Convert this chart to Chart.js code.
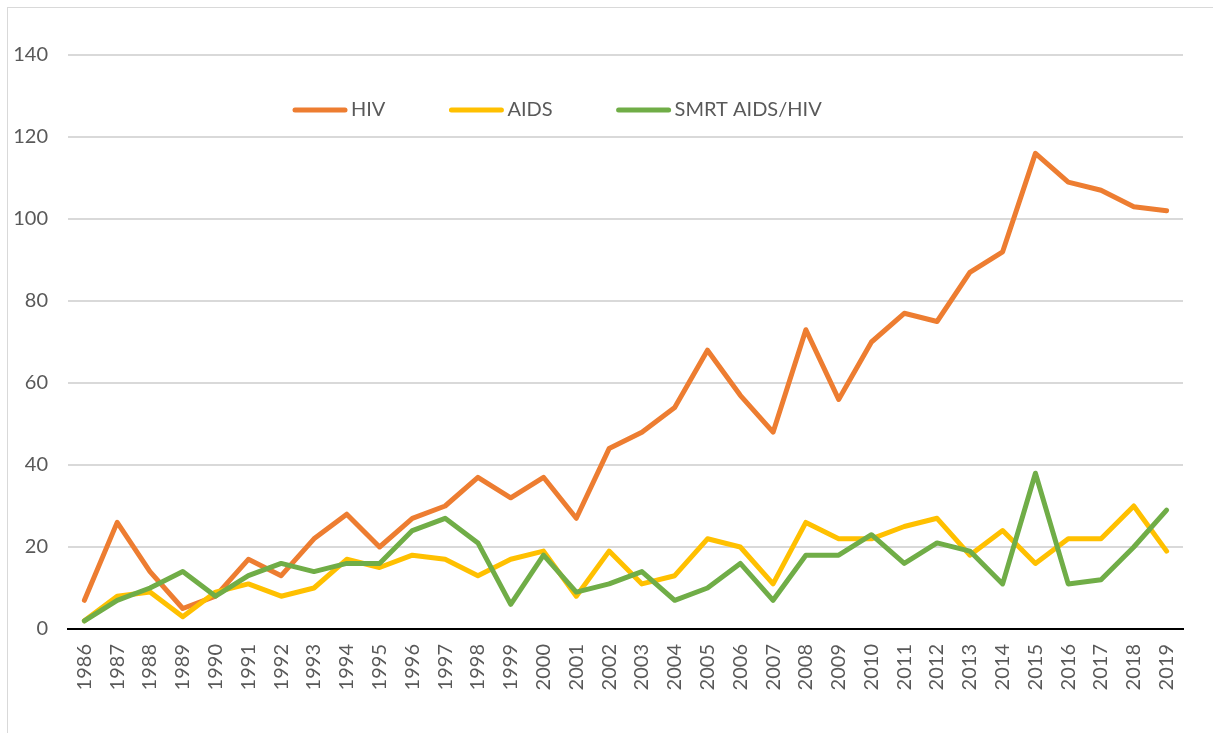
<!DOCTYPE html>
<html>
<head>
<meta charset="utf-8">
<script src="https://cdn.jsdelivr.net/npm/chart.js@4/dist/chart.umd.min.js"></script>
<style>
    html, body { margin: 0; padding: 0; background: #fff; overflow: hidden; }
    #box { position: absolute; left: 7px; top: 7px; width: 1220px; height: 740px; border: 1px solid #d9d9d9; }
</style>
</head>
<body>
<div id="box"><canvas id="chartHiv"></canvas></div>
<script>
const years = ["1986","1987","1988","1989","1990","1991","1992","1993","1994","1995","1996","1997","1998","1999","2000","2001","2002","2003","2004","2005","2006","2007","2008","2009","2010","2011","2012","2013","2014","2015","2016","2017","2018","2019"];
const hiv  = [7, 26, 14, 5, 8, 17, 13, 22, 28, 20, 27, 30, 37, 32, 37, 27, 44, 48, 54, 68, 57, 48, 73, 56, 70, 77, 75, 87, 92, 116, 109, 107, 103, 102];
const aids = [2, 8, 9, 3, 9, 11, 8, 10, 17, 15, 18, 17, 13, 17, 19, 8, 19, 11, 13, 22, 20, 11, 26, 22, 22, 25, 27, 18, 24, 16, 22, 22, 30, 19];
const smrt = [2, 7, 10, 14, 8, 13, 16, 14, 16, 16, 24, 27, 21, 6, 18, 9, 11, 14, 7, 10, 16, 7, 18, 18, 23, 16, 21, 19, 11, 38, 11, 12, 20, 29];

const textColor = "#595959";
const fontFamily = "Lato, 'Open Sans', sans-serif";

function lineSet(label, data, color, order) {
    return {
        label: label,
        data: data,
        borderColor: color,
        backgroundColor: color,
        borderWidth: 5,
        borderCapStyle: "round",
        borderJoinStyle: "round",
        pointRadius: 0,
        tension: 0,
        order: order
    };
}

// legend sits inside the plot, one row, like the Excel original
const innerLegend = {
    id: "innerLegend",
    afterDraw(chart) {
        const ctx = chart.ctx;
        let x = 285;
        const y = 102;
        ctx.save();
        ctx.font = "20px " + fontFamily;
        ctx.textBaseline = "middle";
        ctx.lineCap = "round";
        ctx.lineWidth = 5;
        chart.data.datasets.forEach(ds => {
            ctx.strokeStyle = ds.borderColor;
            ctx.beginPath();
            ctx.moveTo(x + 2, y);
            ctx.lineTo(x + 52, y);
            ctx.stroke();
            ctx.fillStyle = textColor;
            ctx.fillText(ds.label, x + 58, y);
            x += 58 + ctx.measureText(ds.label).width + 64;
        });
        ctx.restore();
    }
};

new Chart(document.getElementById("chartHiv"), {
    type: "line",
    data: {
        labels: years,
        datasets: [
            lineSet("HIV", hiv, "#ED7D31", 3),
            lineSet("AIDS", aids, "#FFC000", 2),
            lineSet("SMRT AIDS/HIV", smrt, "#70AD47", 1)
        ]
    },
    plugins: [innerLegend],
    options: {
        responsive: true,
        maintainAspectRatio: false,
        animation: false,
        layout: { padding: { left: 0, top: 47, right: 45, bottom: 0 } },
        plugins: {
            legend: { display: false },
            tooltip: { enabled: false }
        },
        scales: {
            x: {
                offset: true,
                grid: { display: false, drawTicks: false },
                border: { color: "#000", width: 2 },
                ticks: {
                    minRotation: 90,
                    maxRotation: 90,
                    autoSkip: false,
                    padding: 15,
                    color: textColor,
                    font: { family: fontFamily, size: 20 }
                },
                afterFit: s => { s.height = 119; }
            },
            y: {
                min: 0,
                max: 140,
                grid: { color: "#d9d9d9", lineWidth: 2, drawTicks: false },
                border: { display: false },
                ticks: {
                    stepSize: 20,
                    padding: 20,
                    color: textColor,
                    font: { family: fontFamily, size: 20 }
                },
                afterFit: s => { s.width = 60; }
            }
        }
    }
});
</script>
</body>
</html>
